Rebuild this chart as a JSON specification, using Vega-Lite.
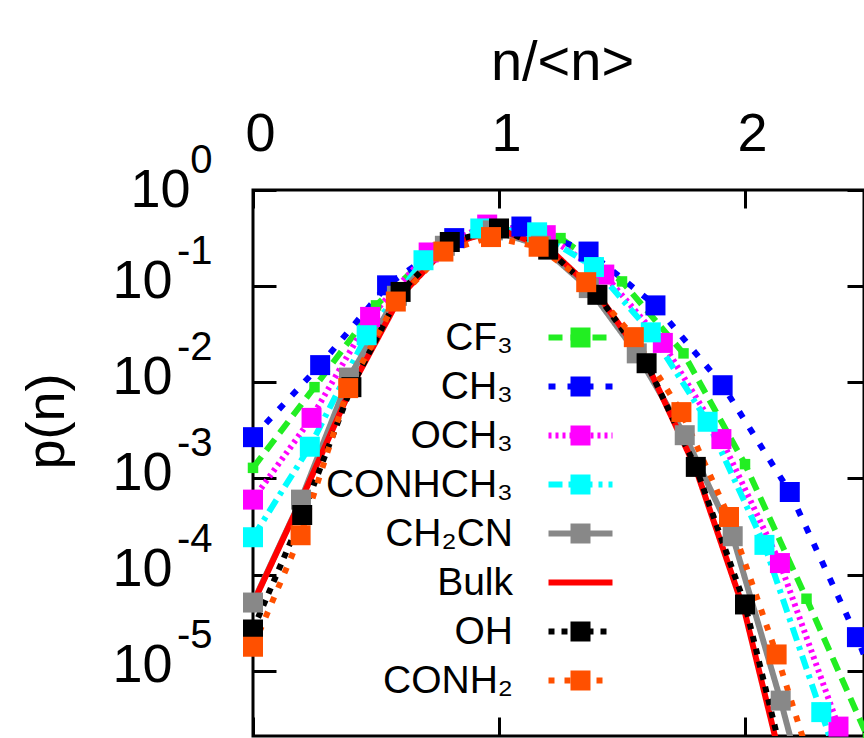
{
  "$schema": "https://vega.github.io/schema/vega-lite/v6.json",
  "autosize": {"type": "none"},
  "width": 611,
  "height": 546,
  "padding": {"left": 253, "top": 190, "right": 0, "bottom": 2},
  "background": "white",
  "config": {
    "view": {"stroke": "black", "strokeWidth": 3},
    "axis": {"labelFont": "Liberation Sans", "titleFont": "Liberation Sans", "labelColor": "black", "titleColor": "black", "tickColor": "black", "tickWidth": 3, "grid": false, "domain": false, "titleFontWeight": "normal"},
    "legend": {"labelFont": "Liberation Sans", "labelColor": "black"}
  },
  "data": {"values": [
    {"s":"CF₃","x":0,"p":0.00129},{"s":"CF₃","x":0.25,"p":0.00891},{"s":"CF₃","x":0.5,"p":0.0631},{"s":"CF₃","x":0.75,"p":0.251},{"s":"CF₃","x":1.0,"p":0.398},{"s":"CF₃","x":1.25,"p":0.316},{"s":"CF₃","x":1.5,"p":0.112},{"s":"CF₃","x":1.75,"p":0.02},{"s":"CF₃","x":2.0,"p":0.00141},{"s":"CF₃","x":2.25,"p":0.0000562},{"s":"CF₃","x":2.5,"p":0.000002},
    {"s":"CH₃","x":0,"p":0.00269},{"s":"CH₃","x":0.273,"p":0.0151},{"s":"CH₃","x":0.545,"p":0.102},{"s":"CH₃","x":0.818,"p":0.316},{"s":"CH₃","x":1.091,"p":0.417},{"s":"CH₃","x":1.364,"p":0.229},{"s":"CH₃","x":1.636,"p":0.0631},{"s":"CH₃","x":1.909,"p":0.00933},{"s":"CH₃","x":2.182,"p":0.000724},{"s":"CH₃","x":2.455,"p":0.0000224},{"s":"CH₃","x":2.727,"p":0.000000398},
    {"s":"OCH₃","x":0,"p":0.000603},{"s":"OCH₃","x":0.238,"p":0.00427},{"s":"OCH₃","x":0.476,"p":0.0479},{"s":"OCH₃","x":0.714,"p":0.224},{"s":"OCH₃","x":0.952,"p":0.437},{"s":"OCH₃","x":1.19,"p":0.339},{"s":"OCH₃","x":1.428,"p":0.132},{"s":"OCH₃","x":1.666,"p":0.0257},{"s":"OCH₃","x":1.904,"p":0.00257},{"s":"OCH₃","x":2.142,"p":0.000132},{"s":"OCH₃","x":2.38,"p":0.00000263},{"s":"OCH₃","x":2.618,"p":0.0000000316},
    {"s":"CONHCH₃","x":0,"p":0.000245},{"s":"CONHCH₃","x":0.231,"p":0.00214},{"s":"CONHCH₃","x":0.462,"p":0.0309},{"s":"CONHCH₃","x":0.693,"p":0.186},{"s":"CONHCH₃","x":0.924,"p":0.398},{"s":"CONHCH₃","x":1.155,"p":0.363},{"s":"CONHCH₃","x":1.386,"p":0.158},{"s":"CONHCH₃","x":1.617,"p":0.0331},{"s":"CONHCH₃","x":1.848,"p":0.00389},{"s":"CONHCH₃","x":2.079,"p":0.000204},{"s":"CONHCH₃","x":2.31,"p":0.00000372},{"s":"CONHCH₃","x":2.541,"p":0.0000000631},
    {"s":"CH₂CN","x":0,"p":0.0000513},{"s":"CH₂CN","x":0.195,"p":0.000603},{"s":"CH₂CN","x":0.39,"p":0.0112},{"s":"CH₂CN","x":0.585,"p":0.0794},{"s":"CH₂CN","x":0.78,"p":0.263},{"s":"CH₂CN","x":0.975,"p":0.38},{"s":"CH₂CN","x":1.17,"p":0.263},{"s":"CH₂CN","x":1.365,"p":0.0955},{"s":"CH₂CN","x":1.56,"p":0.02},{"s":"CH₂CN","x":1.755,"p":0.00282},{"s":"CH₂CN","x":1.95,"p":0.000251},{"s":"CH₂CN","x":2.145,"p":0.0000049},{"s":"CH₂CN","x":2.34,"p":0.0000000631},
    {"s":"Bulk","x":0,"p":0.0000501},{"s":"Bulk","x":0.2,"p":0.000631},{"s":"Bulk","x":0.4,"p":0.00891},{"s":"Bulk","x":0.6,"p":0.0794},{"s":"Bulk","x":0.8,"p":0.275},{"s":"Bulk","x":1.0,"p":0.389},{"s":"Bulk","x":1.2,"p":0.251},{"s":"Bulk","x":1.4,"p":0.0832},{"s":"Bulk","x":1.6,"p":0.0158},{"s":"Bulk","x":1.8,"p":0.00126},{"s":"Bulk","x":2.0,"p":0.0000398},{"s":"Bulk","x":2.2,"p":0.000000316},
    {"s":"OH","x":0,"p":0.0000269},{"s":"OH","x":0.2,"p":0.000417},{"s":"OH","x":0.4,"p":0.00891},{"s":"OH","x":0.6,"p":0.0871},{"s":"OH","x":0.8,"p":0.288},{"s":"OH","x":1.0,"p":0.398},{"s":"OH","x":1.2,"p":0.24},{"s":"OH","x":1.4,"p":0.0813},{"s":"OH","x":1.6,"p":0.0158},{"s":"OH","x":1.8,"p":0.00132},{"s":"OH","x":2.0,"p":0.000049},{"s":"OH","x":2.2,"p":0.000000398},
    {"s":"CONH₂","x":0,"p":0.0000178},{"s":"CONH₂","x":0.1935,"p":0.000257},{"s":"CONH₂","x":0.387,"p":0.00871},{"s":"CONH₂","x":0.5805,"p":0.0692},{"s":"CONH₂","x":0.774,"p":0.229},{"s":"CONH₂","x":0.9675,"p":0.324},{"s":"CONH₂","x":1.161,"p":0.257},{"s":"CONH₂","x":1.3545,"p":0.11},{"s":"CONH₂","x":1.548,"p":0.0295},{"s":"CONH₂","x":1.7415,"p":0.0049},{"s":"CONH₂","x":1.935,"p":0.000398},{"s":"CONH₂","x":2.1285,"p":0.0000148},{"s":"CONH₂","x":2.322,"p":0.000000398}
  ]},
  "resolve": {"axis": {"x": "independent", "y": "independent"}},
  "layer": [
    {
      "mark": {"type": "line", "strokeWidth": 6, "clip": true},
      "encoding": {
        "x": {"field": "x", "type": "quantitative", "scale": {"domain": [0, 2.4837], "nice": false, "zero": false},
          "axis": {"orient": "top", "values": [0, 1, 2], "format": "d", "ticks": false, "tickSize": 0, "labelFontSize": 54, "labelPadding": 40, "labelBaseline": "alphabetic", "labelOffset": 7, "labelFlush": false, "labelOverlap": false,
            "title": "n/<n>", "titleFontSize": 56, "titleX": 309, "titleY": -128, "titleAlign": "center", "titleBaseline": "middle", "titleAnchor": null}},
        "y": {"field": "p", "type": "quantitative", "scale": {"type": "log", "domain": [0.0000021, 1], "nice": false},
          "axis": {"orient": "left", "values": [1, 0.1, 0.01, 0.001, 0.0001, 0.00001], "ticks": false, "tickSize": 0, "labelExpr": "'10'", "labelFontSize": 54, "labelAlign": "right", "labelBaseline": "alphabetic",
            "labelPadding": {"condition": {"test": "datum.value > 0.5", "value": 63}, "value": 81},
            "labelOffset": {"condition": {"test": "datum.value > 0.5", "value": 16}, "value": 11},
            "labelOverlap": false, "labelFlush": false,
            "title": "p(n)", "titleFontSize": 54, "titleX": -206, "titleY": 231, "titleAngle": 270, "titleAlign": "center", "titleBaseline": "middle"}},
        "color": {"field": "s", "type": "nominal",
          "scale": {"domain": ["CF₃", "CH₃", "OCH₃", "CONHCH₃", "CH₂CN", "Bulk", "OH", "CONH₂"], "range": ["#22ee22", "#0000ff", "#ff00ff", "#00ffff", "#888888", "#ff0000", "#000000", "#ff5000"]},
          "legend": {"orient": "none", "legendX": 292, "legendY": 128, "direction": "vertical", "title": null, "padding": 0, "symbolType": "M-2,0H2", "symbolSize": 1024, "symbolStrokeWidth": 6, "symbolOffset": 16, "labelAlign": "right", "labelOffset": -87, "labelFontSize": 39, "labelBaseline": "middle", "rowPadding": 9, "labelLimit": 400}},
        "strokeDash": {"field": "s", "type": "nominal",
          "scale": {"domain": ["CF₃", "CH₃", "OCH₃", "CONHCH₃", "CH₂CN", "Bulk", "OH", "CONH₂"], "range": [[14, 8], [7, 12], [3, 4], [14, 6, 4, 6], [1, 0], [1, 0], [6, 7], [6, 10]]},
          "legend": {"orient": "none", "legendX": 292, "legendY": 128, "direction": "vertical", "title": null, "padding": 0, "symbolType": "M-2,0H2", "symbolSize": 1024, "symbolStrokeWidth": 6, "symbolOffset": 16, "labelAlign": "right", "labelOffset": -87, "labelFontSize": 39, "labelBaseline": "middle", "rowPadding": 9, "labelLimit": 400}}
      }
    },
    {
      "transform": [{"filter": "datum.s !== 'Bulk'"}],
      "mark": {"type": "point", "shape": "square", "filled": true, "opacity": 1, "clip": false},
      "encoding": {
        "x": {"field": "x", "type": "quantitative", "scale": {"domain": [0, 2.4837], "nice": false, "zero": false},
          "axis": {"orient": "top", "values": [0, 1, 2], "offset": -18, "tickSize": 18, "labels": false, "title": null}},
        "y": {"field": "p", "type": "quantitative", "scale": {"type": "log", "domain": [0.0000021, 1], "nice": false},
          "axis": {"orient": "left", "values": [1, 0.1, 0.01, 0.001, 0.0001, 0.00001], "ticks": false, "tickSize": 0, "labelExpr": "'' + round(log(datum.value)/LN10)", "labelFontSize": 40, "labelAlign": "right", "labelBaseline": "alphabetic", "labelPadding": 41,
            "labelOffset": {"condition": {"test": "datum.value > 0.5", "value": -18}, "value": -23},
            "labelOverlap": false, "labelFlush": false, "title": null}},
        "fill": {"field": "s", "type": "nominal",
          "scale": {"domain": ["CF₃", "CH₃", "OCH₃", "CONHCH₃", "CH₂CN", "Bulk", "OH", "CONH₂", "·"], "range": ["#22ee22", "#0000ff", "#ff00ff", "#00ffff", "#888888", "rgba(0,0,0,0)", "#000000", "#ff5000", "rgba(0,0,0,0)"]},
          "legend": {"orient": "none", "legendX": 292, "legendY": 128, "direction": "vertical", "title": null, "padding": 0, "symbolType": "square", "symbolSize": 400, "symbolStrokeWidth": 0, "symbolOffset": 16, "labelExpr": "' '", "labelAlign": "right", "labelOffset": -78, "labelFontSize": 39, "labelBaseline": "middle", "rowPadding": 9, "labelLimit": 400,
            "encode": {"symbols": {"update": {"size": {"signal": "datum.value === 'CF₃' ? 110 : 400"}}}}}},
        "size": {"condition": {"test": "datum.s === 'CF₃'", "value": 110}, "value": 400}
      }
    },
    {
      "mark": {"type": "point", "opacity": 0},
      "encoding": {
        "x": {"field": "x", "type": "quantitative", "scale": {"domain": [0, 2.4837], "nice": false, "zero": false},
          "axis": {"orient": "bottom", "values": [0, 1, 2], "offset": -19, "tickSize": 19, "labels": false, "title": null}},
        "y": {"field": "p", "type": "quantitative", "scale": {"type": "log", "domain": [0.0000021, 1], "nice": false},
          "axis": {"orient": "left", "values": [1, 0.1, 0.01, 0.001, 0.0001, 0.00001], "offset": -23, "tickSize": 23, "labels": false, "title": null}}
      }
    },
    {
      "mark": {"type": "point", "opacity": 0},
      "encoding": {
        "x": {"field": "x", "type": "quantitative", "scale": {"domain": [0, 2.4837], "nice": false, "zero": false}, "axis": null},
        "y": {"field": "p", "type": "quantitative", "scale": {"type": "log", "domain": [0.0000021, 1], "nice": false},
          "axis": {"orient": "right", "values": [1, 0.1, 0.01, 0.001, 0.0001, 0.00001], "offset": -17, "tickSize": 21, "labels": false, "title": null}}
      }
    }
  ]
}
